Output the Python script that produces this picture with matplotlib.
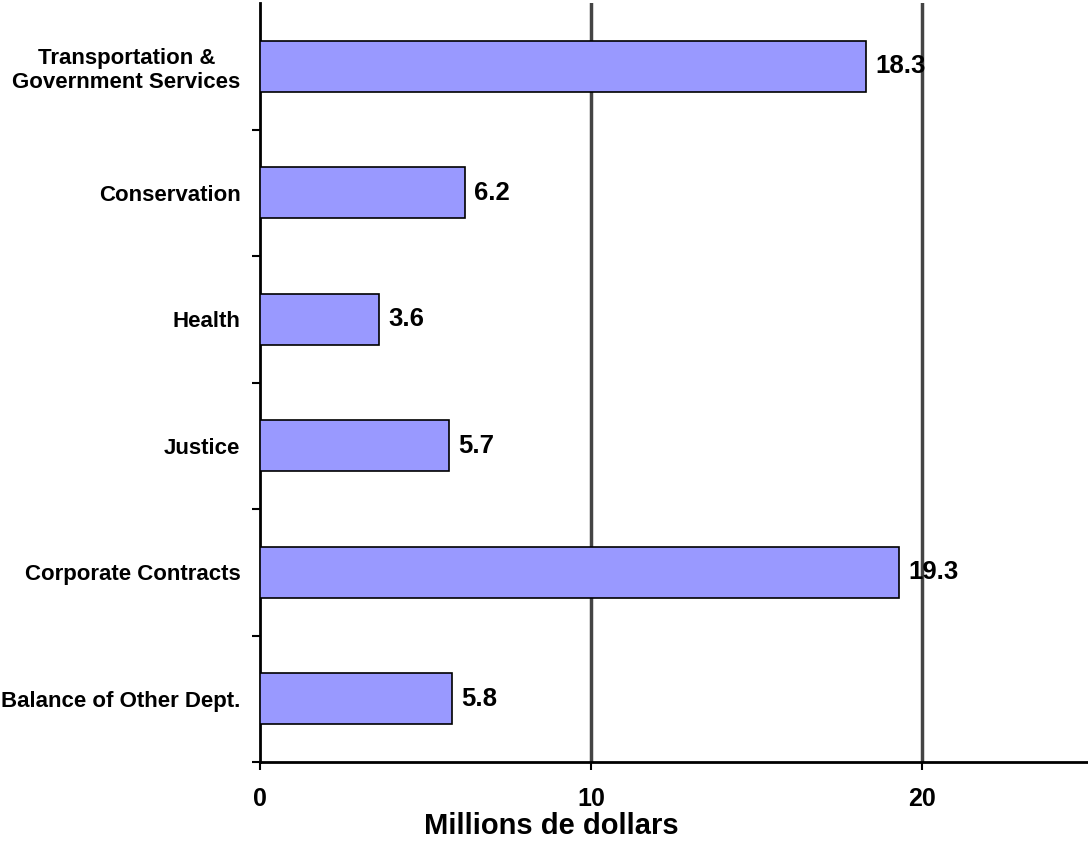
import matplotlib
matplotlib.use("Agg")
import matplotlib.pyplot as plt

categories = ["Balance of Other Dept.", "Corporate Contracts", "Justice", "Health",
              "Conservation", "Transportation &\nGovernment Services"]
values = [5.8, 19.3, 5.7, 3.6, 6.2, 18.3]
xticks = [0, 10, 20]

plt.rcParams["font.family"] = ["Liberation Sans", "DejaVu Sans"]

fig = plt.figure(figsize=(10.88, 8.49), dpi=100)
ax = fig.add_axes([260 / 1088, 1 - 762 / 849, 1 - 260 / 1088, (762 - 3) / 849])

pos = list(range(len(categories)))
ax.barh(pos, values, height=0.4, color="#9999FF", edgecolor="black", linewidth=1.2, zorder=3)

for p, v in zip(pos, values):
    ax.text(v + 0.27, p, f"{v:.1f}", va="center", ha="left", fontsize=18.5, fontweight="bold", zorder=4)

for g in xticks[1:]:
    ax.axvline(g, color="#444444", linewidth=2.5, zorder=1)

ax.set_xlim(0, 25)
ax.set_ylim(-0.5, len(categories) - 0.5)

ax.set_xticks(xticks)
ax.set_xticklabels([str(t) for t in xticks], fontsize=18, fontweight="bold")
ax.tick_params(axis="x", direction="out", length=6, width=1.5, pad=12)

ax.set_yticks(pos)
ax.set_yticklabels(categories, fontsize=16, fontweight="bold", ha="right", multialignment="center")
ax.tick_params(axis="y", length=0, pad=14)
ax.set_yticks([p + 0.5 for p in pos[:-1]] + [-0.5], minor=True)
ax.tick_params(axis="y", which="minor", direction="out", length=6, width=1.5)

for s in ["top", "right"]:
    ax.spines[s].set_visible(False)
for s in ["left", "bottom"]:
    ax.spines[s].set_linewidth(2)

ax.set_xlabel("Millions de dollars", fontsize=21, fontweight="bold")
ax.xaxis.set_label_coords(0.3514, -0.066)

fig.savefig("out.png", dpi=100)
